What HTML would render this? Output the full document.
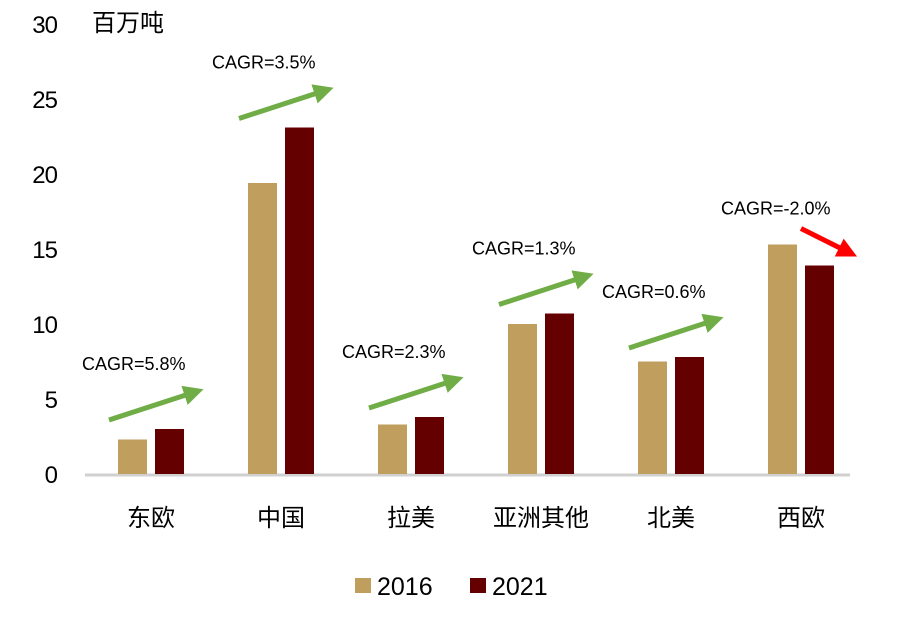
<!DOCTYPE html>
<html><head><meta charset="utf-8"><style>
html,body{margin:0;padding:0;background:#fff;width:915px;height:626px;overflow:hidden}
svg text{font-family:"Liberation Sans","Noto Sans CJK SC",sans-serif}
</style></head><body>
<svg id="chart" width="915" height="626" viewBox="0 0 915 626" xmlns="http://www.w3.org/2000/svg">
<defs>
<marker id="ag" markerWidth="4" markerHeight="4" refX="2.2" refY="2" orient="auto" markerUnits="strokeWidth"><path d="M0,0 L4,2 L0,4 Z" fill="#70ad47"/></marker>
<marker id="ar" markerWidth="4" markerHeight="4" refX="2.2" refY="2" orient="auto" markerUnits="strokeWidth"><path d="M0,0 L4,2 L0,4 Z" fill="#ff0000"/></marker>
</defs>
<g id="plot"></g>
</svg>
<script>
const categories = ["东欧","中国","拉美","亚洲其他","北美","西欧"];
const values2016 = [2.3, 19.4, 3.3, 10.0, 7.5, 15.3];
const values2021 = [3.0, 23.1, 3.8, 10.7, 7.8, 13.9];
const cagrLabels = ["CAGR=5.8%","CAGR=3.5%","CAGR=2.3%","CAGR=1.3%","CAGR=0.6%","CAGR=-2.0%"];
const yTicks = [0,5,10,15,20,25,30];

const NS="http://www.w3.org/2000/svg";
const g=document.getElementById('plot');
const base=474, pxPerUnit=15;
const y=v=>base-v*pxPerUnit;
const cx=i=>151+i*130;
function el(t,a,txt){const e=document.createElementNS(NS,t);for(const k in a)e.setAttribute(k,a[k]);if(txt!=null)e.textContent=txt;g.appendChild(e);return e;}

yTicks.forEach(t=>{
  const e=el('text',{x:57,y:y(t)+9,'text-anchor':'end','font-size':24,fill:'#000','letter-spacing':'-1'},String(t));
  
  
});
const u=el('text',{x:92,y:31,'font-size':24,fill:'#000'},'百万吨');



const ax=el('line',{x1:85,y1:base+1,x2:850,y2:base+1,stroke:'#d0d0d0','stroke-width':3});



const bw=29;
categories.forEach((c,i)=>{
  const x0=cx(i);
  const b1=el('rect',{x:x0-bw-4,y:y(values2016[i]),width:bw,height:values2016[i]*pxPerUnit,fill:'#bf9e5e'});
  
  
  const b2=el('rect',{x:x0+4,y:y(values2021[i]),width:bw,height:values2021[i]*pxPerUnit,fill:'#640000'});
  
  
  const l=el('text',{x:x0,y:526,'text-anchor':'middle','font-size':24,fill:'#000'},c);
  
  

  const top=y(Math.max(values2016[i],values2021[i]));
  const neg=values2021[i]<values2016[i];
  let x1,y1,x2,y2;
  if(neg){x1=x0;y1=top-16;x2=x0+48;y2=top+8;}
  else{x1=x0-42;y1=top-9;x2=x0+44;y2=top-37;}
  const a=el('line',{x1:x1,y1:y1,x2:x2,y2:y2,stroke:neg?'#ff0000':'#70ad47','stroke-width':5,'marker-end':neg?'url(#ar)':'url(#ag)'});
  
  
  const tx=neg?x0-80:x0-69, ty=neg?top-30:top-59;
  const t=el('text',{x:tx,y:ty,'font-size':18,fill:'#000'},cagrLabels[i]);
  
  
});

const lg=[["2016","#bf9e5e",355],["2021","#640000",470]];
lg.forEach(d=>{
  const s=el('rect',{x:d[2],y:578,width:16,height:15,fill:d[1]});
  
  
  const t=el('text',{x:d[2]+22,y:595,'font-size':25,fill:'#000'},d[0]);
  
  
});
</script>
</body></html>
